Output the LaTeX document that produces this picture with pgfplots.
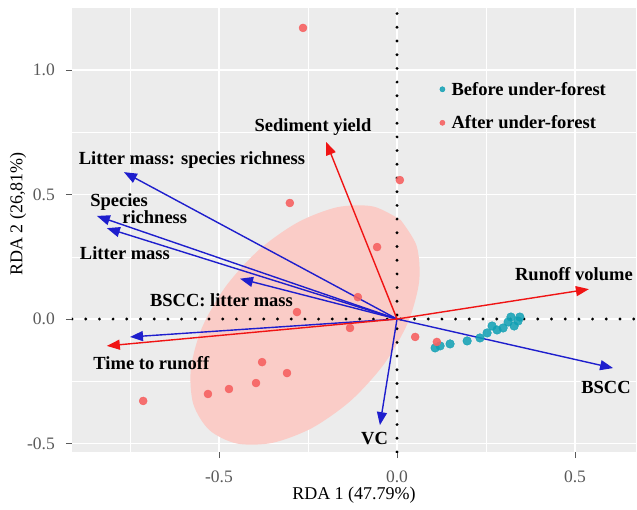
\documentclass[border=0pt]{standalone}
\usepackage{fontspec}
\setmainfont{Liberation Serif}
\usepackage{pgfplots}
\pgfplotsset{compat=1.18}
\usetikzlibrary{arrows.meta}

\definecolor{panel}{RGB}{236,236,236}
\definecolor{ptcyan}{RGB}{16,160,180}
\definecolor{ptred}{RGB}{246,98,98}
\definecolor{ellfill}{RGB}{250,204,199}
\definecolor{arrblue}{RGB}{30,30,205}
\definecolor{arrred}{RGB}{240,20,20}
\definecolor{tickgray}{RGB}{90,90,90}

\newcommand{\lbl}{\fontsize{18.5}{21}\selectfont\bfseries}

\pgfplotsset{
  vec/.style={line width=1.4pt, -{Triangle[length=13pt,width=10pt]}, forget plot},
  zeroline/.style={black, line width=3.2pt, line cap=round, dash pattern=on 0pt off 13.7pt, forget plot},
}

\begin{document}
\begin{tikzpicture}
\begin{axis}[
  scale only axis,
  width=564pt, height=444pt,
  xmin=-0.9129, xmax=0.6713,
  ymin=-0.534, ymax=1.249,
  axis background/.style={fill=panel},
  axis line style={draw=none},
  xtick={-0.5,0,0.5}, xticklabels={-0.5,0.0,0.5},
  ytick={-0.5,0,0.5,1}, yticklabels={-0.5,0.0,0.5,1.0},
  minor xtick={-0.75,-0.25,0.25}, minor ytick={-0.25,0.25,0.75},
  grid=both,
  major grid style={white, line width=1.1pt},
  minor grid style={white, line width=0.5pt},
  tick align=outside, xtick pos=bottom, ytick pos=left,
  major tick length=6pt, minor tick length=0pt,
  tick style={tickgray, line width=1pt},
  ticklabel style={font=\fontsize{17.5}{20}\selectfont, text=tickgray},
  xticklabel style={anchor=center, yshift=-19pt},
  yticklabel style={anchor=east, inner sep=0pt, xshift=-11pt},
  xlabel={RDA 1 (47.79\%)}, ylabel={RDA 2 (26,81\%)},
  label style={font=\fontsize{18}{21}\selectfont},
  xlabel style={at={(axis description cs:0.5,-0.098)}, anchor=center},
  ylabel style={at={(axis description cs:-0.0957,0.536)}, anchor=center},
  legend style={at={(axis description cs:0.651,0.836)}, anchor=north west,
    draw=none, fill=none, font=\lbl, row sep=17pt, inner sep=0pt,
    nodes={inner sep=1pt}},
  legend cell align=left,
  legend image code/.code={\path (0cm,0cm) (0.38cm,0cm);
    \draw[#1, mark size=2.6pt] plot coordinates {(0.1cm,0cm)};},
]

% confidence ellipse of the after group
\addplot[fill=ellfill, draw=none, smooth, forget plot] coordinates {
  (0.0101,0.398) (0.0553,0.293) (0.0621,0.150) (0.0306,-0.014)
  (-0.0360,-0.180) (-0.1292,-0.327) (-0.2379,-0.437) (-0.3492,-0.497)
  (-0.4497,-0.500) (-0.5270,-0.446) (-0.5722,-0.341) (-0.5789,-0.198)
  (-0.5475,-0.034) (-0.4809,0.131) (-0.3876,0.278) (-0.2789,0.388)
  (-0.1677,0.449) (-0.0671,0.452) (0.0101,0.398)
} -- cycle;

% zero lines
\addplot[zeroline] coordinates {(-0.9129,0) (0.6713,0)};
\addplot[zeroline] coordinates {(0,-0.534) (0,1.249)};

% sites
\addplot[only marks, mark=*, mark size=4.3pt, color=ptcyan,
  mark options={draw=none, fill=ptcyan, fill opacity=0.85}] coordinates {
  (0.107,-0.116) (0.121,-0.108) (0.149,-0.100) (0.197,-0.088)
  (0.233,-0.076) (0.253,-0.056) (0.267,-0.028) (0.281,-0.044)
  (0.298,-0.036) (0.312,-0.012) (0.320,0.008) (0.329,-0.028)
  (0.340,-0.008) (0.345,0.008)
};
\addlegendentry{Before under-forest}

\addplot[only marks, mark=*, mark size=4pt, color=ptred,
  mark options={draw=none, fill=ptred, fill opacity=0.9}] coordinates {
  (-0.264,1.169) (0.008,0.558) (-0.301,0.466) (-0.056,0.289)
  (-0.110,0.088) (-0.281,0.028) (-0.132,-0.036) (0.051,-0.072)
  (0.112,-0.092) (-0.379,-0.173) (-0.309,-0.217) (-0.396,-0.257)
  (-0.472,-0.281) (-0.531,-0.301) (-0.713,-0.329)
};
\addlegendentry{After under-forest}

% explanatory vectors
\addplot[vec, arrblue] coordinates {(0,0) (-0.767,0.590)};
\addplot[vec, arrblue] coordinates {(0,0) (-0.843,0.414)};
\addplot[vec, arrblue] coordinates {(0,0) (-0.815,0.365)};
\addplot[vec, arrblue] coordinates {(0,0) (-0.441,0.162)};
\addplot[vec, arrblue] coordinates {(0,0) (-0.750,-0.072)};
\addplot[vec, arrblue] coordinates {(0,0) (0.607,-0.197)};
\addplot[vec, arrblue] coordinates {(0,0) (-0.048,-0.426)};
% response vectors
\addplot[vec, arrred] coordinates {(0,0) (-0.199,0.711)};
\addplot[vec, arrred] coordinates {(0,0) (0.539,0.120)};
\addplot[vec, arrred] coordinates {(0,0) (-0.815,-0.108)};

% labels
\node[font=\lbl] at (axis cs:-0.236,0.771) {Sediment yield};
\node[font=\lbl] at (axis cs:-0.576,0.639) {Litter mass: species richness};
\node[font=\lbl, anchor=west, inner sep=0pt] at (axis cs:-0.862,0.470) {Species};
\node[font=\lbl, anchor=west, inner sep=0pt] at (axis cs:-0.772,0.410) {richness};
\node[font=\lbl, anchor=west, inner sep=0pt] at (axis cs:-0.891,0.265) {Litter mass};
\node[font=\lbl] at (axis cs:-0.493,0.076) {BSCC: litter mass};
\node[font=\lbl] at (axis cs:-0.690,-0.177) {Time to runoff};
\node[font=\lbl] at (axis cs:0.497,0.181) {Runoff volume};
\node[font=\lbl] at (axis cs:0.587,-0.273) {BSCC};
\node[font=\lbl] at (axis cs:-0.063,-0.478) {VC};
\end{axis}
\path (current axis.south west) ++(-72pt,-57pt);
\path (current axis.north east) ++(1pt,8pt);
\end{tikzpicture}
\end{document}
